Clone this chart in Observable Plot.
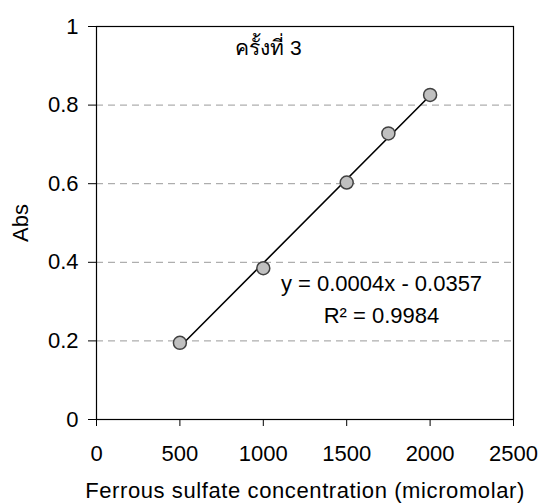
<!DOCTYPE html>
<html><head><meta charset="utf-8">
<script src="https://cdn.jsdelivr.net/npm/d3@7"></script>
<script src="https://cdn.jsdelivr.net/npm/@observablehq/plot@0.6"></script>
<style>
body{margin:0;background:#fff}
#chart svg{font-family:"Liberation Sans", Arial, sans-serif;}
</style>
</head><body><div id="chart"></div>
<script>
const concentration = [500, 1000, 1500, 1750, 2000];
const absorbance = [0.195, 0.385, 0.603, 0.728, 0.826];
const xTicks = [0, 500, 1000, 1500, 2000, 2500];
const yTicks = [0, 0.2, 0.4, 0.6, 0.8, 1];
const gridValues = [0.2, 0.4, 0.6, 0.8];
const xTitle = "Ferrous sulfate concentration (micromolar)";
const yTitle = "Abs";
const runLabel = "ครั้งที่ 3";
const equation = "y = 0.0004x - 0.0357";
const rSquared = "R² = 0.9984";

const data = concentration.map((x, i) => ({x, y: absorbance[i]}));

const chart = Plot.plot({
  width: 542,
  height: 504,
  marginLeft: 96,
  marginRight: 29,
  marginTop: 26,
  marginBottom: 85,
  style: {fontFamily: '"Liberation Sans", Arial, sans-serif', fontSize: "22px", color: "#000", background: "#fff"},
  x: {domain: [0, 2500]},
  y: {domain: [0, 1]},
  marks: [
    Plot.gridY(gridValues, {stroke: "#9a9a9a", strokeOpacity: 1, strokeDasharray: "7,5", strokeWidth: 1}),
    Plot.frame({stroke: "#000", strokeWidth: 1.2}),
    Plot.axisX(xTicks, {tickSize: 7, tickPadding: 19, fontSize: 22, label: null, tickFormat: d => String(d), stroke: "#000"}),
    Plot.axisY(yTicks, {tickSize: 8, tickPadding: 10, fontSize: 22, label: null, tickFormat: d => String(d), stroke: "#000"}),
    Plot.linearRegressionY(data, {x: "x", y: "y", ci: 0, stroke: "#000", strokeWidth: 1.6}),
    Plot.dot(data, {x: "x", y: "y", r: 6.5, fill: "#c0c0c0", stroke: "#404040", strokeWidth: 1.5}),
    Plot.text([runLabel], {frameAnchor: "top-left", dx: 172, dy: 22, textAnchor: "middle", lineAnchor: "middle", fontSize: 21, fill: "#000"}),
    Plot.text([equation], {frameAnchor: "top-left", dx: 285, dy: 257, textAnchor: "middle", lineAnchor: "middle", fontSize: 22, fill: "#000"}),
    Plot.text([rSquared], {frameAnchor: "top-left", dx: 285, dy: 289, textAnchor: "middle", lineAnchor: "middle", fontSize: 22, fill: "#000"}),
    Plot.text([xTitle], {frameAnchor: "bottom", dy: 71, textAnchor: "middle", lineAnchor: "middle", fontSize: 22, fill: "#000"}),
    Plot.text([yTitle], {frameAnchor: "left", dx: -76, rotate: -90, textAnchor: "middle", lineAnchor: "middle", fontSize: 22, fill: "#000"})
  ]
});
d3.select(chart).selectAll("text")
  .filter(function() { return this.textContent === xTitle; })
  .style("letter-spacing", "0.6px");
document.getElementById("chart").appendChild(chart);
</script>
</body></html>
